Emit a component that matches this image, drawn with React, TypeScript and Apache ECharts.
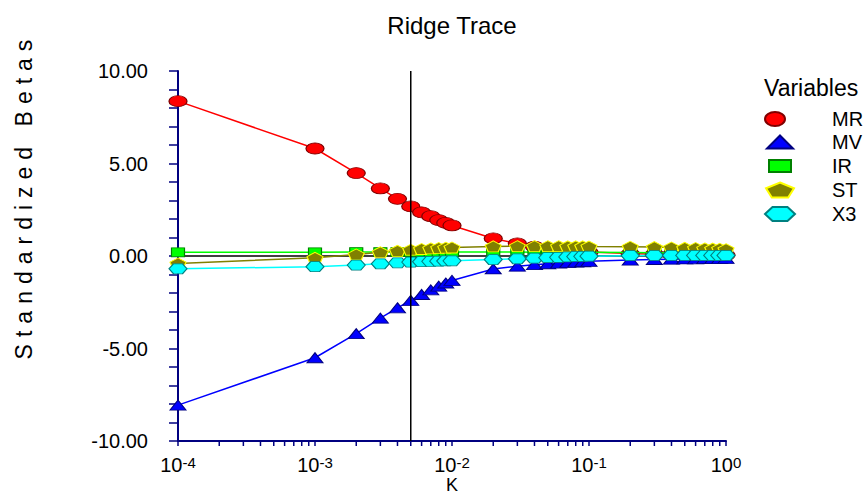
import React, { useEffect, useRef } from 'react';
import * as echarts from 'echarts';

// ---- data ----
const kValues = [0.0001, 0.001, 0.002, 0.003, 0.004, 0.005, 0.006, 0.007, 0.008, 0.009, 0.01, 0.02, 0.03, 0.04, 0.05, 0.06, 0.07, 0.08, 0.09, 0.1, 0.2, 0.3, 0.4, 0.5, 0.6, 0.7, 0.8, 0.9, 1.0];
const mrValues = [8.37, 5.81, 4.48, 3.65, 3.09, 2.68, 2.36, 2.15, 1.94, 1.79, 1.65, 0.95, 0.68, 0.5, 0.4, 0.33, 0.29, 0.26, 0.23, 0.21, 0.13, 0.1, 0.08, 0.07, 0.06, 0.06, 0.05, 0.05, 0.05];
const mvValues = [-8.06, -5.5, -4.2, -3.36, -2.8, -2.4, -2.08, -1.83, -1.63, -1.46, -1.32, -0.7, -0.55, -0.47, -0.42, -0.38, -0.35, -0.33, -0.31, -0.29, -0.22, -0.19, -0.17, -0.16, -0.15, -0.14, -0.14, -0.13, -0.13];
const irValues = [0.2, 0.2, 0.21, 0.21, 0.21, 0.21, 0.21, 0.21, 0.21, 0.21, 0.21, 0.21, 0.21, 0.2, 0.2, 0.2, 0.2, 0.2, 0.2, 0.2, 0.19, 0.18, 0.17, 0.16, 0.15, 0.15, 0.14, 0.14, 0.13];
const stValues = [-0.4, -0.1, 0.08, 0.2, 0.28, 0.34, 0.38, 0.41, 0.43, 0.45, 0.46, 0.52, 0.53, 0.53, 0.53, 0.53, 0.52, 0.52, 0.52, 0.51, 0.5, 0.48, 0.46, 0.44, 0.43, 0.41, 0.4, 0.39, 0.37];
const x3Values = [-0.69, -0.58, -0.49, -0.42, -0.37, -0.33, -0.31, -0.29, -0.28, -0.27, -0.26, -0.19, -0.15, -0.12, -0.09, -0.07, -0.05, -0.03, -0.02, -0.01, 0.02, 0.03, 0.03, 0.03, 0.03, 0.03, 0.03, 0.03, 0.03];
const seriesNames = ['MR', 'MV', 'IR', 'ST', 'X3'];
const selectedK = 0.005;
const yTickValues = [-10, -5, 0, 5, 10];
const xMajorTicks = [0.0001, 0.001, 0.01, 0.1, 1];
const xMinorTicks = [
  0.0002, 0.0003, 0.0004, 0.0005, 0.0006, 0.0007, 0.0008, 0.0009,
  0.002, 0.003, 0.004, 0.005, 0.006, 0.007, 0.008, 0.009,
  0.02, 0.03, 0.04, 0.05, 0.06, 0.07, 0.08, 0.09,
  0.2, 0.3, 0.4, 0.5, 0.6, 0.7, 0.8, 0.9,
];

// ---- styles ----
const FONT = 'Arial, Liberation Sans, sans-serif';
const NAVY = '#000080';
const ELLIPSE = 'path://M-1,0A1,1,0,1,1,1,0A1,1,0,1,1,-1,0Z';
const PENTAGON = 'path://M0,-1L0.951,-0.309L0.588,0.809L-0.588,0.809L-0.951,-0.309Z';
const HEXAGON = 'path://M-1,0L-0.5,-0.866L0.5,-0.866L1,0L0.5,0.866L-0.5,0.866Z';
// legend icon shapes drawn directly in their own aspect ratio
const LG_ELLIPSE = 'path://M0,7A10,7,0,1,1,20,7A10,7,0,1,1,0,7Z';
const LG_TRIANGLE = 'path://M13,0L26,13L0,13Z';
const LG_RECT = 'path://M0,0L22,0L22,12L0,12Z';
const LG_PENTAGON = 'path://M14,0L28,5.7L22.2,15L5.8,15L0,5.7Z';
const LG_HEXAGON = 'path://M0,7L7.5,0L22.5,0L30,7L22.5,14L7.5,14Z';

const seriesStyles = [
  { symbol: ELLIPSE, lgIcon: LG_ELLIPSE, size: [18, 11], fill: '#FF0000', border: '#800000', line: '#FF0000', lgLeft: 764, lgSize: [20, 14], lgCenter: 118 },
  { symbol: 'triangle', lgIcon: LG_TRIANGLE, size: [16, 10], fill: '#0000FF', border: '#000080', line: '#0000FF', lgLeft: 766, lgSize: [26, 13], lgCenter: 141 },
  { symbol: 'rect', lgIcon: LG_RECT, size: [13, 9], fill: '#00FF00', border: '#008000', line: '#00FF00', lgLeft: 768, lgSize: [22, 12], lgCenter: 165 },
  { symbol: PENTAGON, lgIcon: LG_PENTAGON, size: [16, 11], fill: '#808000', border: '#FFFF00', line: '#808000', lgLeft: 765, lgSize: [28, 15], lgCenter: 189 },
  { symbol: HEXAGON, lgIcon: LG_HEXAGON, size: [18, 10], fill: '#00FFFF', border: '#008080', line: '#00FFFF', lgLeft: 764, lgSize: [30, 14], lgCenter: 213 },
];
const seriesValues = [mrValues, mvValues, irValues, stValues, x3Values];
const LEGEND_TEXT_X = 832;

export default function App() {
  const ref = useRef<HTMLDivElement>(null);

  useEffect(() => {
    if (!ref.current) return;
    const chart = echarts.init(ref.current, null, { renderer: 'svg' });

    const lineSeries: any[] = seriesNames.map((name, i) => {
      const st = seriesStyles[i];
      return {
        name,
        type: 'line',
        data: kValues.map((k, j) => [k, seriesValues[i][j]]),
        symbol: st.symbol,
        symbolSize: st.size,
        symbolKeepAspect: false,
        showAllSymbol: true,
        itemStyle: { color: st.fill, borderColor: st.border, borderWidth: 1 },
        lineStyle: { color: st.line, width: 1.5 },
        z: 3 + i,
        silent: true,
      };
    });

    const refLineStyle = { color: '#000', width: 1.5, type: 'solid' };

    const legendNameTexts = seriesNames.map((name, i) => ({
      type: 'text',
      x: LEGEND_TEXT_X,
      y: seriesStyles[i].lgCenter + 1,
      silent: true,
      style: { text: name, fontSize: 20, fontFamily: FONT, fill: '#000', textAlign: 'left', textVerticalAlign: 'middle' },
    }));

    const option: any = {
      animation: false,
      grid: { left: 178, right: 141, top: 71, bottom: 54, containLabel: false, outerBoundsMode: 'none' },
      xAxis: {
        type: 'log',
        logBase: 10,
        min: xMajorTicks[0],
        max: xMajorTicks[xMajorTicks.length - 1],
        name: 'K',
        nameLocation: 'middle',
        nameGap: 53,
        nameMoveOverlap: false,
        nameTextStyle: { fontFamily: FONT, fontSize: 18, color: '#000', verticalAlign: 'bottom' },
        axisLine: { onZero: false, lineStyle: { color: NAVY, width: 2 } },
        axisTick: { length: 5, lineStyle: { color: NAVY, width: 1.5 } },
        splitLine: { show: false },
        minorTick: { show: false },
        axisLabel: {
          margin: 14,
          color: '#000',
          formatter: (v: number) => '{b|10}{s|' + Math.round(Math.log10(v)) + '}',
          rich: {
            b: { fontFamily: FONT, fontSize: 20, color: '#000', verticalAlign: 'bottom', lineHeight: 20 },
            s: { fontFamily: FONT, fontSize: 15, color: '#000', verticalAlign: 'top', lineHeight: 6 },
          },
        },
      },
      yAxis: {
        type: 'value',
        min: yTickValues[0],
        max: yTickValues[yTickValues.length - 1],
        interval: 5,
        axisLine: { onZero: false, lineStyle: { color: NAVY, width: 2 } },
        axisTick: { length: 9, lineStyle: { color: NAVY, width: 1.5 } },
        minorTick: { show: true, splitNumber: 5, length: 9, lineStyle: { color: NAVY, width: 1.5 } },
        splitLine: { show: false },
        minorSplitLine: { show: false },
        axisLabel: {
          margin: 30,
          color: '#000',
          fontFamily: FONT,
          fontSize: 20,
          formatter: (v: number) => v.toFixed(2),
        },
      },
      legend: seriesNames.map((name, i) => {
        const st = seriesStyles[i];
        return {
          data: [{ name, icon: st.lgIcon }],
          orient: 'vertical',
          left: st.lgLeft,
          top: st.lgCenter - st.lgSize[1] / 2,
          padding: 0,
          itemWidth: st.lgSize[0],
          itemHeight: st.lgSize[1],
          selectedMode: false,
          formatter: () => '',
          textStyle: { fontSize: 1 },
        };
      }),
      graphic: [
        {
          type: 'text', x: 452, y: 25, silent: true,
          style: { text: 'Ridge Trace', fontSize: 24, fontFamily: FONT, fill: '#000', textAlign: 'center', textVerticalAlign: 'middle' },
        },
        {
          type: 'text', x: 764, y: 88, silent: true,
          style: { text: 'Variables', fontSize: 23, fontFamily: FONT, fill: '#000', textAlign: 'left', textVerticalAlign: 'middle' },
        },
        {
          type: 'text', x: 24, y: 196, rotation: Math.PI / 2, silent: true,
          style: { text: 'Standardized Betas', fontSize: 23, fontFamily: FONT, fill: '#000', textAlign: 'center', textVerticalAlign: 'middle' },
        },
        ...legendNameTexts,
      ],
      series: [
        {
          name: 'zeroLine',
          type: 'line',
          data: [[xMajorTicks[0], 0], [xMajorTicks[xMajorTicks.length - 1], 0]],
          symbol: 'none',
          silent: true,
          z: 2,
          lineStyle: refLineStyle,
        },
        ...lineSeries,
        {
          name: 'kLine',
          type: 'line',
          data: [[selectedK, yTickValues[0]], [selectedK, yTickValues[yTickValues.length - 1]]],
          symbol: 'none',
          silent: true,
          z: 20,
          lineStyle: refLineStyle,
        },
        {
          name: 'minorTicks',
          type: 'custom',
          silent: true,
          clip: false,
          z: 20,
          data: xMinorTicks.map((v) => [v, yTickValues[0]]),
          encode: { x: 0, y: 1 },
          renderItem: (_params: any, api: any) => {
            const p = api.coord([api.value(0), api.value(1)]);
            return {
              type: 'line',
              shape: { x1: p[0], y1: p[1], x2: p[0], y2: p[1] + 5 },
              style: { stroke: NAVY, lineWidth: 1.5 },
            };
          },
        },
      ],
    };

    chart.setOption(option);

    // widen letter spacing of the rotated axis title, as in the reference
    ref.current.querySelectorAll('text').forEach((t) => {
      if (t.textContent === 'Standardized Betas') {
        (t as SVGTextElement).style.letterSpacing = '7px';
      }
    });

    return () => chart.dispose();
  }, []);

  return (
    <div
      ref={ref}
      style={{ position: 'absolute', left: 0, top: 0, width: 867, height: 495, background: '#fff' }}
    />
  );
}
